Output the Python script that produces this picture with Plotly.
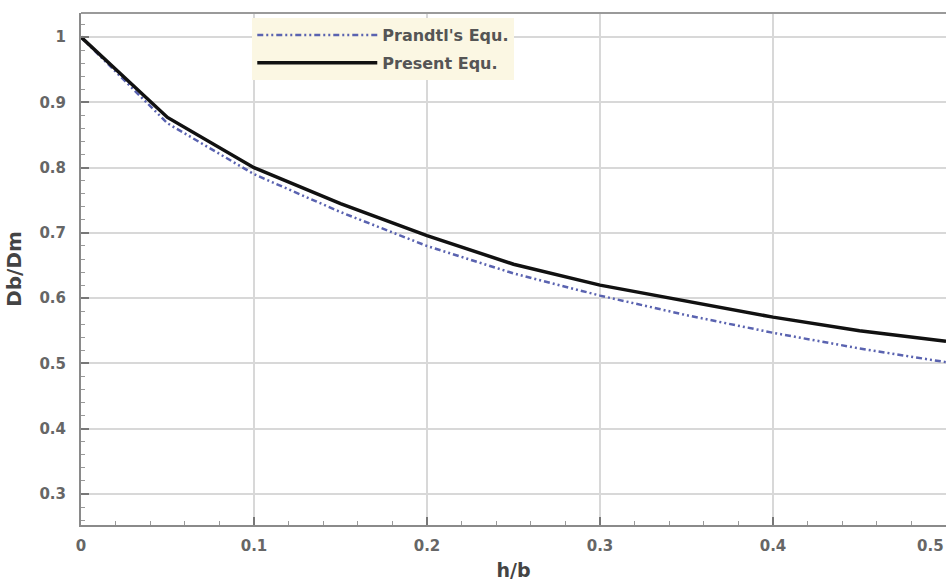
import plotly.graph_objects as go

h_b = [0, 0.05, 0.1, 0.15, 0.2, 0.25, 0.3, 0.35, 0.4, 0.45, 0.5]
prandtl = [1.0, 0.868, 0.790, 0.732, 0.680, 0.638, 0.604, 0.574, 0.547, 0.523, 0.502]
present = [1.0, 0.877, 0.800, 0.745, 0.696, 0.652, 0.620, 0.595, 0.571, 0.550, 0.534]

x_ticks = [0, 0.1, 0.2, 0.3, 0.4, 0.5]
x_labels = ["0", "0.1", "0.2", "0.3", "0.4", "0.5" + "\u00a0" * 6]
y_ticks = [0.3, 0.4, 0.5, 0.6, 0.7, 0.8, 0.9, 1.0]
y_labels = ["0.3", "0.4", "0.5", "0.6", "0.7", "0.8", "0.9", "1"]

FONT = "DejaVu Sans, Verdana, sans-serif"

fig = go.Figure()
fig.add_trace(go.Scatter(
    x=h_b, y=prandtl, mode="lines", name="Prandtl's Equ.", legendgroup="a",
    line=dict(color="#5a63b0", width=2.5, dash="6px,3px,2px,3px,2px,3px"),
))
fig.add_trace(go.Scatter(
    x=h_b, y=present, mode="lines", name="Present Equ.", legendgroup="b",
    line=dict(color="#111111", width=3.5),
))

axis_font = dict(family=FONT, size=15, color="#666666", weight="bold")

fig.update_layout(
    width=947, height=581,
    margin=dict(l=81, r=1, t=13, b=56),
    paper_bgcolor="white", plot_bgcolor="white",
    showlegend=True,
    legend=dict(
        x=0.198, y=0.99, xanchor="left", yanchor="top",
        bgcolor="#fbf7e3", borderwidth=0,
        font=dict(family=FONT, size=16, color="#555555", weight="bold"),
        itemwidth=120, tracegroupgap=4,
    ),
    xaxis=dict(
        range=[0, 0.5], tickvals=x_ticks, ticktext=x_labels,
        showgrid=True, gridcolor="#d8d8d8", gridwidth=1.5,
        showline=True, linecolor="#8a8a8a", linewidth=2,
        ticks="inside", ticklen=8, tickwidth=2, tickcolor="#777",
        minor=dict(dtick=0.02, ticks="inside", ticklen=4, tickwidth=1, tickcolor="#999", showgrid=False),
        tickfont=axis_font, zeroline=False, automargin=False, ticklabeloverflow="allow",
        ticklabelstandoff=6,
        title=dict(text="h/b", font=dict(family=FONT, size=19, color="#444", weight="bold"), standoff=12),
    ),
    yaxis=dict(
        range=[0.2525, 1.037], tickvals=y_ticks, ticktext=y_labels,
        showgrid=True, gridcolor="#d8d8d8", gridwidth=1.5,
        showline=True, linecolor="#8a8a8a", linewidth=2,
        ticks="inside", ticklen=8, tickwidth=2, tickcolor="#777",
        minor=dict(tick0=0, dtick=0.02, ticks="inside", ticklen=4, tickwidth=1, tickcolor="#999", showgrid=False),
        tickfont=axis_font, zeroline=False, automargin=False,
        ticklabelstandoff=10,
        title=dict(text="Db/Dm", font=dict(family=FONT, size=20, color="#444", weight="bold"), standoff=12),
    ),
    shapes=[dict(type="line", xref="paper", yref="paper", x0=0, x1=1, y0=1, y1=1,
                 line=dict(color="#9a9a9a", width=2))],
)

fig.write_html(
    "out.html",
    config={"displayModeBar": False},
    post_script=(
        "document.body.style.margin='0';"
        "document.body.style.overflow='hidden';"
        "document.documentElement.style.overflow='hidden';"
    ),
)
